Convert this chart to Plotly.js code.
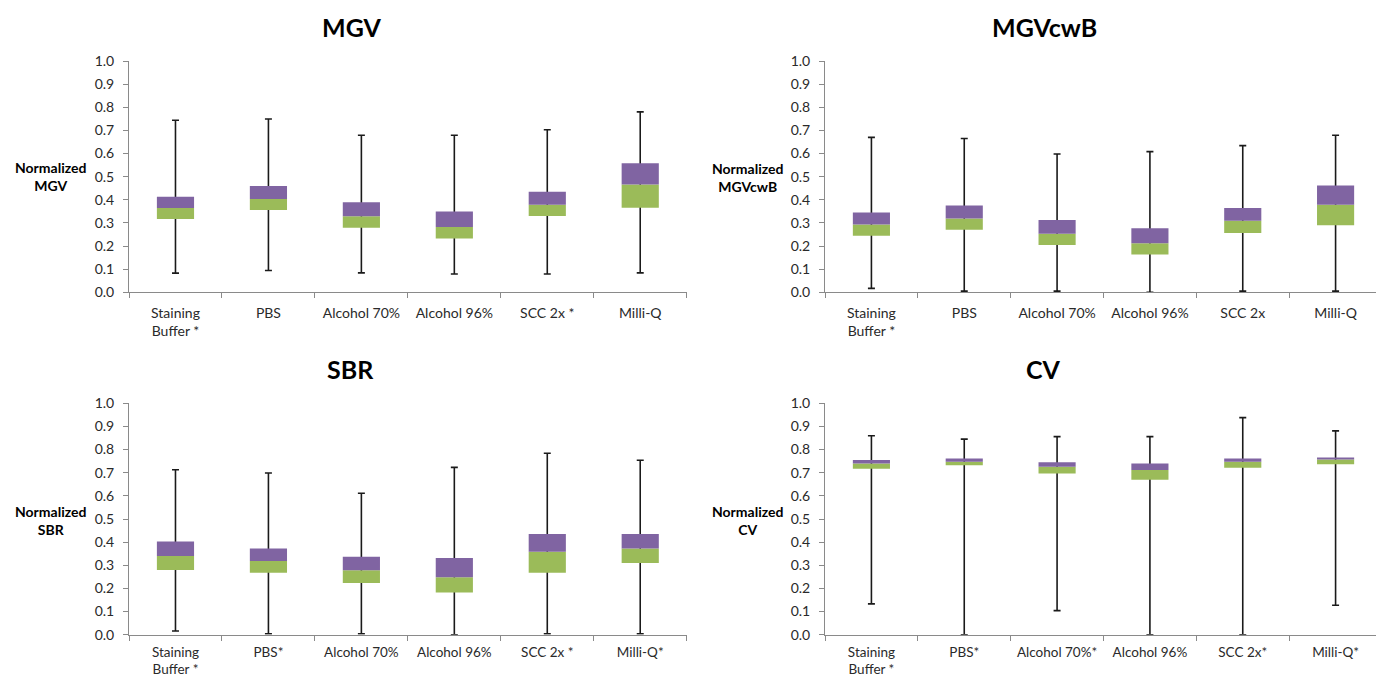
<!DOCTYPE html>
<html>
<head>
<meta charset="utf-8">
<script src="https://cdn.plot.ly/plotly-3.0.1.min.js"></script>
<style>
  html, body { margin: 0; padding: 0; background: #fff; overflow: hidden; }
  #chart { width: 1376px; height: 679px; }
</style>
</head>
<body>
<div id="chart"></div>
<script>
// ---------- DATA ----------
// MGV
const mgvCats   = ['Staining<br>Buffer *', 'PBS', 'Alcohol 70%', 'Alcohol 96%', 'SCC 2x *', 'Milli-Q'];
const mgvMin    = [0.083, 0.094, 0.084, 0.079, 0.079, 0.084];
const mgvQ1     = [0.317, 0.356, 0.279, 0.233, 0.330, 0.366];
const mgvMedian = [0.365, 0.403, 0.329, 0.282, 0.379, 0.466];
const mgvQ3     = [0.413, 0.460, 0.389, 0.349, 0.435, 0.558];
const mgvMax    = [0.744, 0.749, 0.679, 0.679, 0.703, 0.780];

// MGVcwB
const cwbCats   = ['Staining<br>Buffer *', 'PBS', 'Alcohol 70%', 'Alcohol 96%', 'SCC 2x', 'Milli-Q'];
const cwbMin    = [0.017, 0.005, 0.005, 0.0, 0.005, 0.005];
const cwbQ1     = [0.244, 0.270, 0.204, 0.163, 0.256, 0.290];
const cwbMedian = [0.293, 0.319, 0.253, 0.212, 0.309, 0.378];
const cwbQ3     = [0.345, 0.375, 0.313, 0.277, 0.364, 0.462];
const cwbMax    = [0.670, 0.665, 0.598, 0.608, 0.634, 0.679];

// SBR
const sbrCats   = ['Staining<br>Buffer *', 'PBS*', 'Alcohol 70%', 'Alcohol 96%', 'SCC 2x *', 'Milli-Q*'];
const sbrMin    = [0.016, 0.004, 0.004, 0.0, 0.004, 0.004];
const sbrQ1     = [0.280, 0.268, 0.223, 0.182, 0.268, 0.310];
const sbrMedian = [0.340, 0.318, 0.278, 0.248, 0.359, 0.373];
const sbrQ3     = [0.403, 0.373, 0.337, 0.331, 0.435, 0.435];
const sbrMax    = [0.713, 0.699, 0.611, 0.723, 0.784, 0.754];

// CV
const cvCats    = ['Staining<br>Buffer *', 'PBS*', 'Alcohol 70%*', 'Alcohol 96%', 'SCC 2x*', 'Milli-Q*'];
const cvMin     = [0.133, 0.0, 0.104, 0.0, 0.0, 0.127];
const cvQ1      = [0.717, 0.732, 0.697, 0.670, 0.721, 0.737];
const cvMedian  = [0.740, 0.747, 0.726, 0.712, 0.747, 0.757];
const cvQ3      = [0.755, 0.761, 0.745, 0.740, 0.761, 0.766];
const cvMax     = [0.860, 0.845, 0.856, 0.856, 0.938, 0.881];

const panelTitles = ['MGV', 'MGVcwB', 'SBR', 'CV'];
const yTitles = ['Normalized<br>MGV', 'Normalized<br>MGVcwB', 'Normalized<br>SBR', 'Normalized<br>CV'];

// ---------- STYLE ----------
const FONT = 'Lato, "Open Sans", sans-serif';
const PURPLE = '#8064A2';
const GREEN = '#9BBB59';
const W = 1376, H = 679;

const panels = [
  {cats: mgvCats, mn: mgvMin, q1: mgvQ1, md: mgvMedian, q3: mgvQ3, mx: mgvMax, xa: 'x',  ya: 'y'},
  {cats: cwbCats, mn: cwbMin, q1: cwbQ1, md: cwbMedian, q3: cwbQ3, mx: cwbMax, xa: 'x2', ya: 'y2'},
  {cats: sbrCats, mn: sbrMin, q1: sbrQ1, md: sbrMedian, q3: sbrQ3, mx: sbrMax, xa: 'x3', ya: 'y3'},
  {cats: cvCats,  mn: cvMin,  q1: cvQ1,  md: cvMedian,  q3: cvQ3,  mx: cvMax,  xa: 'x4', ya: 'y4'}
];

const traces = [];
panels.forEach(p => {
  // whiskers (drawn first, behind boxes)
  traces.push({
    type: 'bar', x: p.cats, y: p.md, xaxis: p.xa, yaxis: p.ya,
    width: 0.4, marker: {color: 'rgba(0,0,0,0)'}, showlegend: false, hoverinfo: 'skip',
    error_y: {
      type: 'data', symmetric: false,
      array: p.mx.map((v, i) => v - p.md[i]),
      arrayminus: p.md.map((v, i) => v - p.mn[i]),
      color: '#1a1a1a', thickness: 1.6, width: 3.5
    }
  });
  // lower box part (Q1 -> median)
  traces.push({
    type: 'bar', x: p.cats, base: p.q1, y: p.md.map((v, i) => v - p.q1[i]),
    xaxis: p.xa, yaxis: p.ya, width: 0.4,
    marker: {color: GREEN, line: {width: 0}}, showlegend: false
  });
  // upper box part (median -> Q3)
  traces.push({
    type: 'bar', x: p.cats, base: p.md, y: p.q3.map((v, i) => v - p.md[i]),
    xaxis: p.xa, yaxis: p.ya, width: 0.4,
    marker: {color: PURPLE, line: {width: 0}}, showlegend: false
  });
});

// pixel geometry -> paper fractions
const px = v => v / W;
const py = v => 1 - v / H;
const leftX = [px(129), px(686.7)];
const rightX = [px(825), 1];
const topY = [py(292.3), py(61)];
const botY = [py(634.7), py(403.3)];

function xaxis(domain, anchor, rangeEnd, fsize, standoff) {
  return {
    domain: domain, anchor: anchor, type: 'category',
    range: [-0.5, rangeEnd],
    showline: true, linecolor: '#8a8a8a', linewidth: 1,
    ticks: 'outside', ticklen: 5, tickcolor: '#8a8a8a', tickson: 'boundaries',
    showgrid: false, zeroline: false,
    tickfont: {family: FONT, size: fsize, color: '#2a2a2a'},
    ticklabelstandoff: standoff, fixedrange: true
  };
}
function yaxis(domain, anchor) {
  return {
    domain: domain, anchor: anchor, range: [0, 1], dtick: 0.1, tick0: 0, tickformat: '.1f',
    showline: true, linecolor: '#8a8a8a', linewidth: 1,
    ticks: 'outside', ticklen: 5, tickcolor: '#8a8a8a',
    showgrid: false, zeroline: false,
    tickfont: {family: FONT, size: 14, color: '#2a2a2a'},
    ticklabelstandoff: 6, fixedrange: true
  };
}

const rightEnd = -0.5 + (1376 - 825) / ((1382 - 825) / 6);

const titlePos = [[351, 27], [1044, 27], [350, 369], [1043, 369]];
const yTitlePos = [[50, 177], [747, 178], [50, 520], [747, 520]];

const annotations = [];
panelTitles.forEach((t, i) => {
  annotations.push({
    text: '<b>' + t + '</b>', xref: 'paper', yref: 'paper',
    x: px(titlePos[i][0]), y: py(titlePos[i][1]), xanchor: 'center', yanchor: 'middle',
    showarrow: false, font: {family: FONT, size: 25, color: '#000'}
  });
});
yTitles.forEach((t, i) => {
  annotations.push({
    text: '<b>' + t + '</b>', xref: 'paper', yref: 'paper',
    x: px(yTitlePos[i][0]), y: py(yTitlePos[i][1]), xanchor: 'center', yanchor: 'middle',
    align: 'center', showarrow: false, font: {family: FONT, size: 14, color: '#000'}
  });
});

const layout = {
  width: W, height: H,
  margin: {l: 0, r: 0, t: 0, b: 0},
  paper_bgcolor: '#fff', plot_bgcolor: '#fff',
  barmode: 'overlay', showlegend: false,
  font: {family: FONT, size: 14, color: '#2a2a2a'},
  xaxis:  xaxis(leftX, 'y', 5.5, 14, 8),
  yaxis:  yaxis(topY, 'x'),
  xaxis2: xaxis(rightX, 'y2', rightEnd, 14, 8),
  yaxis2: yaxis(topY, 'x2'),
  xaxis3: xaxis(leftX, 'y3', 5.5, 13.5, 5),
  yaxis3: yaxis(botY, 'x3'),
  xaxis4: xaxis(rightX, 'y4', rightEnd, 13.5, 5),
  yaxis4: yaxis(botY, 'x4'),
  annotations: annotations
};

Plotly.newPlot('chart', traces, layout, {displayModeBar: false, staticPlot: true});
</script>
</body>
</html>
